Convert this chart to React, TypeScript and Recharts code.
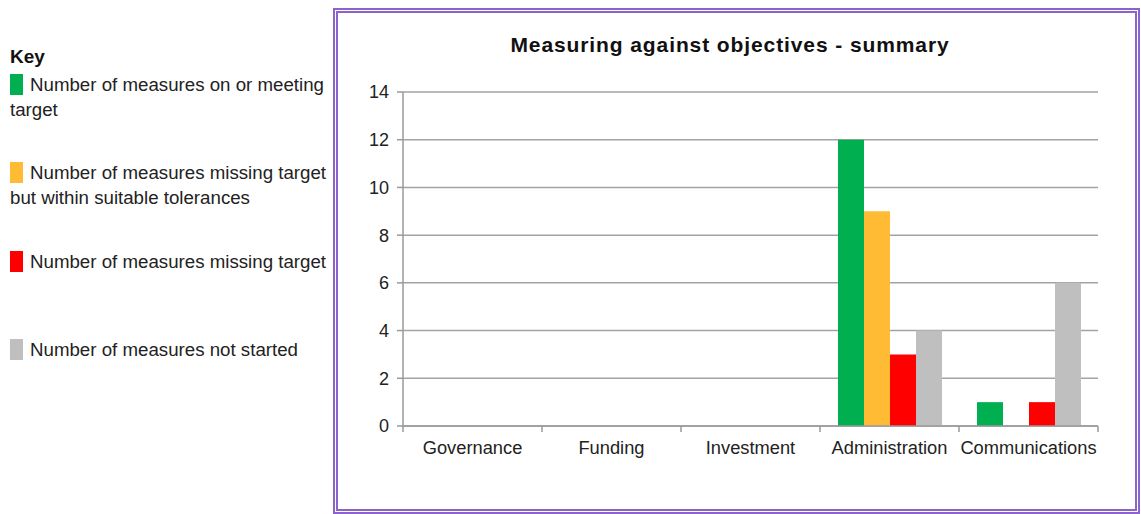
import React from 'react';
import { BarChart, Bar, XAxis, YAxis, CartesianGrid } from 'recharts';

const categories = ['Governance', 'Funding', 'Investment', 'Administration', 'Communications'];
const onTarget = [0, 0, 0, 12, 1];
const withinTolerance = [0, 0, 0, 9, 0];
const missingTarget = [0, 0, 0, 3, 1];
const notStarted = [0, 0, 0, 4, 6];
const yTicks = [0, 2, 4, 6, 8, 10, 12, 14];

const colors = {
  onTarget: '#00b050',
  within: '#ffbb33',
  missing: '#ff0000',
  notStarted: '#bfbfbf',
};

const data = categories.map((name, i) => ({
  name,
  onTarget: onTarget[i],
  within: withinTolerance[i],
  missing: missingTarget[i],
  notStarted: notStarted[i],
}));

const font = '"Liberation Sans", Arial, sans-serif';
const axisGrey = '#9a9a9a';

const Swatch: React.FC<{ color: string }> = ({ color }) => (
  <span
    style={{
      display: 'inline-block',
      width: 13,
      height: 21,
      background: color,
      verticalAlign: -4,
      marginRight: 7,
    }}
  />
);

const legendText: React.CSSProperties = {
  position: 'absolute',
  left: 10,
  width: 330,
  fontSize: 18.7,
  lineHeight: '25px',
  color: '#222',
  whiteSpace: 'nowrap',
};

// category label plus tick marks on the band edges
const CategoryTick = (props: any) => {
  const { x, y, payload, index, width, visibleTicksCount } = props;
  const half = width / visibleTicksCount / 2;
  return (
    <g>
      <line x1={x - half} x2={x - half} y1={y} y2={y + 6} stroke={axisGrey} strokeWidth={1.5} />
      {index === visibleTicksCount - 1 && (
        <line x1={x + half} x2={x + half} y1={y} y2={y + 6} stroke={axisGrey} strokeWidth={1.5} />
      )}
      <text x={x} y={y + 15} dy="0.71em" textAnchor="middle" fontSize={18.3} fill="#222" fontFamily={font}>
        {payload.value}
      </text>
    </g>
  );
};

export default function App() {
  return (
    <div style={{ position: 'absolute', left: 0, top: 0, width: 1141, height: 514, fontFamily: font, background: '#fff' }}>
      {/* Key */}
      <div style={{ position: 'absolute', left: 10, top: 46, fontSize: 19, fontWeight: 'bold', color: '#111' }}>Key</div>
      <div style={{ ...legendText, top: 72 }}>
        <Swatch color={colors.onTarget} />Number of measures on or meeting
        <br />target
      </div>
      <div style={{ ...legendText, top: 160 }}>
        <Swatch color={colors.within} />Number of measures missing target
        <br />but within suitable tolerances
      </div>
      <div style={{ ...legendText, top: 249 }}>
        <Swatch color={colors.missing} />Number of measures missing target
      </div>
      <div style={{ ...legendText, top: 337 }}>
        <Swatch color={colors.notStarted} />Number of measures not started
      </div>

      {/* chart frame */}
      <div
        style={{
          position: 'absolute',
          left: 333,
          top: 8,
          width: 807,
          height: 506,
          boxSizing: 'border-box',
          border: '5px double #8c62cc',
        }}
      />
      <div
        style={{
          position: 'absolute',
          left: 338,
          top: 33,
          width: 784,
          textAlign: 'center',
          fontSize: 21,
          fontWeight: 'bold',
          letterSpacing: 0.9,
          color: '#111',
        }}
      >
        Measuring against objectives - summary
      </div>
      <div style={{ position: 'absolute', left: 338, top: 13 }}>
        <BarChart
          width={797}
          height={495}
          data={data}
          margin={{ top: 79, right: 37, bottom: 42, left: 5 }}
          barCategoryGap={18}
          barGap={0}
        >
          <CartesianGrid vertical={false} stroke="#a3a3a3" strokeWidth={1.5} />
          <XAxis
            dataKey="name"
            height={40}
            stroke={axisGrey}
            strokeWidth={1.5}
            tickLine={false}
            tickSize={0}
            tickMargin={0}
            interval={0}
            tick={<CategoryTick />}
          />
          <YAxis
            width={60}
            domain={[0, 14]}
            ticks={yTicks}
            tickSize={6}
            tickMargin={8}
            stroke={axisGrey}
            strokeWidth={1.5}
            tick={{ fontSize: 18, fill: '#222', fontFamily: font }}
          />
          <Bar dataKey="onTarget" fill={colors.onTarget} isAnimationActive={false} />
          <Bar dataKey="within" fill={colors.within} isAnimationActive={false} />
          <Bar dataKey="missing" fill={colors.missing} isAnimationActive={false} />
          <Bar dataKey="notStarted" fill={colors.notStarted} isAnimationActive={false} />
        </BarChart>
      </div>
    </div>
  );
}
